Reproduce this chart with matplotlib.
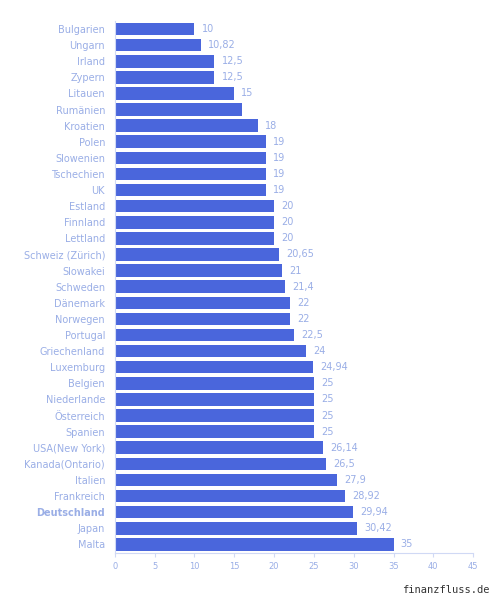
import matplotlib
matplotlib.use("Agg")
import matplotlib.pyplot as plt

countries = ["Bulgarien","Ungarn","Irland","Zypern","Litauen","Rumänien","Kroatien","Polen",
             "Slowenien","Tschechien","UK","Estland","Finnland","Lettland","Schweiz (Zürich)",
             "Slowakei","Schweden","Dänemark","Norwegen","Portugal","Griechenland","Luxemburg",
             "Belgien","Niederlande","Österreich","Spanien","USA(New York)","Kanada(Ontario)",
             "Italien","Frankreich","Deutschland","Japan","Malta"]
values = [10,10.82,12.5,12.5,15,16,18,19,19,19,19,20,20,20,20.65,21,21.4,22,22,22.5,24,24.94,
          25,25,25,25,26.14,26.5,27.9,28.92,29.94,30.42,35]
labels = ["10","10,82","12,5","12,5","15","","18","19","19","19","19","20","20","20","20,65",
          "21","21,4","22","22","22,5","24","24,94","25","25","25","25","26,14","26,5","27,9",
          "28,92","29,94","30,42","35"]
xticks = [0,5,10,15,20,25,30,35,40,45]

bar_c = "#4a66dc"
txt_c = "#9aaee6"
fig = plt.figure(figsize=(4.97,6.0), dpi=100)
ax = fig.add_axes([0.231, 0.078, 0.721, 0.887])
y = list(range(len(countries)))
ax.barh(y, values, height=0.78, color=bar_c)
for yi, v, l in zip(y, values, labels):
    if l:
        ax.text(v + 0.9, yi, l, va="center", ha="left", fontsize=7, color=txt_c)
ax.set_ylim(len(countries) - 0.45, -0.5)
ax.set_xlim(0, 45)
ax.set_yticks(y)
ax.set_yticklabels(countries, fontsize=7, color=txt_c)
for t in ax.get_yticklabels():
    if t.get_text() == "Deutschland":
        t.set_fontweight("bold")
ax.set_xticks(xticks)
ax.set_xticklabels([str(t) for t in xticks], fontsize=6, color=txt_c)
ax.tick_params(axis="y", length=0, pad=7)
ax.tick_params(axis="x", length=3, color="#d0d9f5", pad=3)
for s in ["top", "right"]:
    ax.spines[s].set_visible(False)
ax.spines["left"].set_color("#d0d9f5")
ax.spines["bottom"].set_color("#d0d9f5")
fig.text(0.985, 0.008, "finanzfluss.de", ha="right", va="bottom", fontsize=7.5,
         family="DejaVu Sans Mono", color="#333333")
fig.savefig("out.png", dpi=100)
